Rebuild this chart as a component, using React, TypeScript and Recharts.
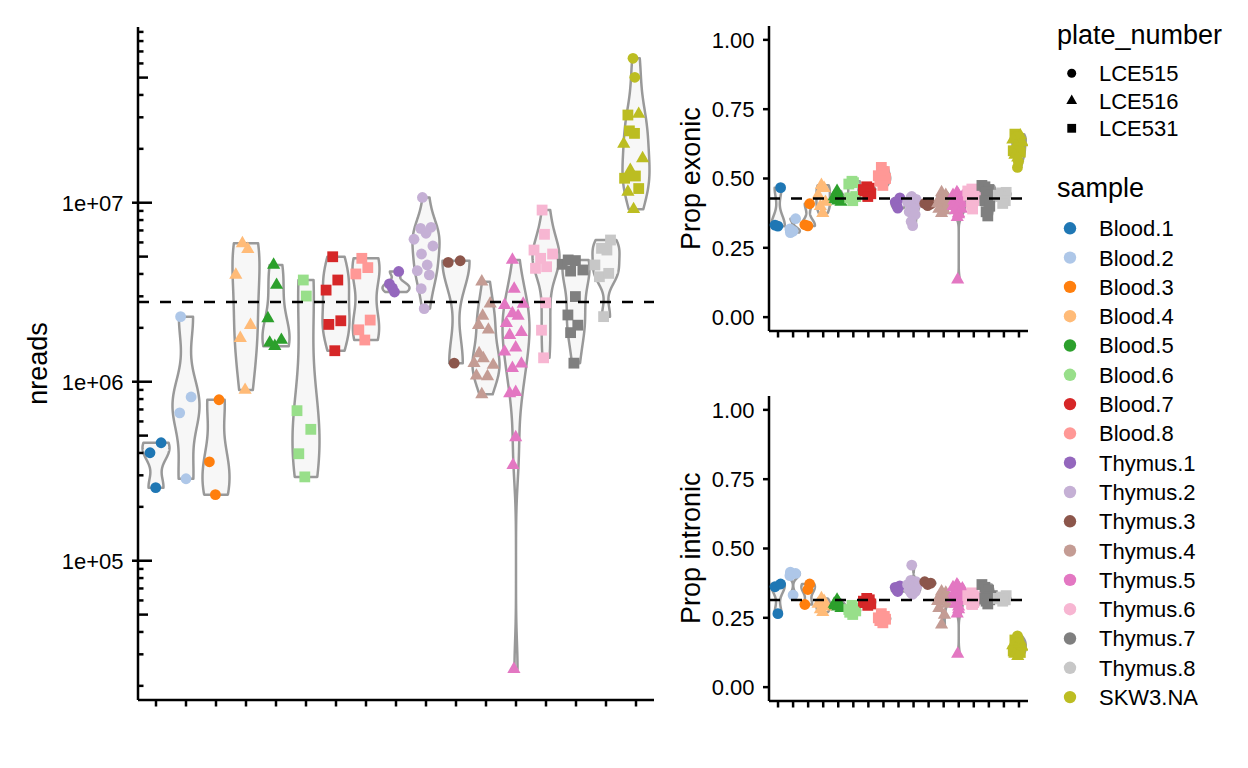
import React from 'react';
import { ScatterChart, Scatter, XAxis, YAxis } from 'recharts';

const FONT = '"Liberation Sans", Arial, Helvetica, sans-serif';

const SAMPLES = ['Blood.1', 'Blood.2', 'Blood.3', 'Blood.4', 'Blood.5', 'Blood.6', 'Blood.7', 'Blood.8',
  'Thymus.1', 'Thymus.2', 'Thymus.3', 'Thymus.4', 'Thymus.5', 'Thymus.6', 'Thymus.7', 'Thymus.8', 'SKW3.NA'];
const COLORS = ['#1f77b4', '#aec7e8', '#ff7f0e', '#ffbb78', '#2ca02c', '#98df8a', '#d62728', '#ff9896',
  '#9467bd', '#c5b0d5', '#8c564b', '#c49c94', '#e377c2', '#f7b6d2', '#7f7f7f', '#c7c7c7', '#bcbd22'];
const PLATES = ['LCE515', 'LCE516', 'LCE531'];
const SAMPLE_PLATE = ['LCE515', 'LCE515', 'LCE515', 'LCE516', 'LCE516', 'LCE531', 'LCE531', 'LCE531',
  'LCE515', 'LCE515', 'LCE515', 'LCE516', 'LCE516', 'LCE531', 'LCE531', 'LCE531', 'mixed'];
const SKW3_PLATES = ['LCE515', 'LCE515', 'LCE531', 'LCE516', 'LCE531', 'LCE531', 'LCE516', 'LCE516',
  'LCE516', 'LCE531', 'LCE531', 'LCE531', 'LCE516', 'LCE516'];

const NREADS: number[][] = [
  [4.01e5, 4.56e5, 2.56e5],
  [2.31e6, 8.22e5, 6.70e5, 2.87e5],
  [7.93e5, 3.57e5, 2.34e5],
  [5.93e6, 5.50e6, 3.95e6, 2.07e6, 1.75e6, 8.99e5],
  [4.49e6, 3.47e6, 2.26e6, 1.65e6, 1.58e6, 1.71e6],
  [3.70e6, 3.01e6, 6.89e5, 5.42e5, 3.96e5, 2.94e5],
  [4.99e6, 3.70e6, 3.25e6, 2.09e6, 2.19e6, 1.49e6],
  [4.89e6, 4.34e6, 4.00e6, 2.21e6, 1.95e6, 1.71e6],
  [4.13e6, 3.52e6, 3.34e6, 3.17e6],
  [1.07e7, 7.19e6, 7.29e6, 6.75e6, 6.25e6, 5.73e6, 5.17e6, 4.49e6, 4.17e6, 3.95e6, 3.31e6, 2.56e6],
  [4.64e6, 4.74e6, 1.27e6],
  [3.62e6, 2.73e6, 2.33e6, 2.07e6, 1.95e6, 1.44e6, 1.35e6, 1.27e6, 1.24e6, 1.08e6, 1.07e6, 8.50e5],
  [4.79e6, 3.30e6, 2.68e6, 2.72e6, 2.41e6, 2.33e6, 2.12e6, 1.82e6, 1.89e6, 1.55e6, 1.47e6, 1.19e6, 1.26e6, 8.61e5, 8.75e5, 4.89e5, 3.42e5, 2.48e4],
  [9.10e6, 6.66e6, 5.44e6, 5.17e6, 4.89e6, 4.30e6, 4.39e6, 2.76e6, 1.94e6, 1.36e6],
  [4.53e6, 4.79e6, 4.75e6, 4.15e6, 4.21e6, 2.99e6, 2.36e6, 2.07e6, 1.88e6, 1.27e6],
  [6.19e6, 5.56e6, 5.44e6, 4.49e6, 3.86e6, 4.03e6, 2.31e6],
  [6.41e7, 5.02e7, 3.09e7, 3.13e7, 2.52e7, 2.44e7, 2.13e7, 1.77e7, 1.52e7, 1.41e7, 1.37e7, 1.20e7, 1.15e7, 9.19e6],
];

const JITTER: number[][] = [
  [-0.2, 0.17, -0.01],
  [-0.18, 0.17, -0.21, 0.0],
  [0.1, -0.22, -0.02],
  [-0.12, 0.06, -0.34, 0.15, -0.19, -0.03],
  [-0.08, 0.02, -0.27, -0.21, -0.04, 0.18],
  [-0.09, 0.01, -0.3, 0.16, -0.24, -0.04],
  [-0.11, 0.06, -0.33, -0.24, 0.16, -0.04],
  [-0.14, 0.06, -0.34, 0.14, -0.24, -0.04],
  [0.09, -0.22, -0.12, -0.05],
  [-0.12, -0.18, 0.17, 0.0, -0.4, 0.23, -0.15, 0.04, -0.29, 0.11, -0.16, -0.06],
  [-0.26, 0.14, -0.06],
  [-0.14, 0.14, -0.11, -0.25, 0.08, -0.23, -0.09, -0.4, 0.24, -0.32, 0.05, -0.14],
  [-0.12, -0.06, -0.38, 0.24, -0.12, 0.07, -0.32, -0.21, 0.18, -0.01, -0.38, -0.12, 0.18, -0.21, -0.01, -0.01, -0.1, -0.07],
  [-0.13, -0.05, -0.4, 0.22, -0.18, -0.35, 0.02, -0.01, -0.15, -0.08],
  [-0.46, -0.26, -0.02, -0.18, 0.23, -0.02, -0.27, 0.06, -0.18, -0.07],
  [0.15, -0.15, 0.03, -0.37, -0.22, 0.09, -0.08],
  [-0.1, -0.04, -0.27, 0.09, -0.22, -0.05, -0.41, 0.22, -0.19, -0.02, -0.38, 0.09, -0.27, -0.08],
];

const PROP_EXONIC: number[][] = [
  [0.332, 0.467, 0.328],
  [0.305, 0.355, 0.318, 0.31],
  [0.409, 0.333, 0.329],
  [0.476, 0.465, 0.44, 0.415, 0.4, 0.375],
  [0.455, 0.44, 0.435, 0.425, 0.42, 0.415],
  [0.49, 0.485, 0.48, 0.435, 0.43, 0.42],
  [0.47, 0.465, 0.46, 0.455, 0.445, 0.435],
  [0.54, 0.525, 0.51, 0.5, 0.49, 0.475],
  [0.43, 0.415, 0.405, 0.393],
  [0.435, 0.43, 0.425, 0.42, 0.415, 0.41, 0.4, 0.39, 0.38, 0.37, 0.345, 0.33],
  [0.41, 0.408, 0.402],
  [0.45, 0.44, 0.435, 0.43, 0.425, 0.42, 0.415, 0.41, 0.4, 0.39, 0.385, 0.375],
  [0.45, 0.445, 0.44, 0.435, 0.43, 0.425, 0.42, 0.415, 0.41, 0.405, 0.4, 0.395, 0.39, 0.385, 0.375, 0.37, 0.36, 0.135],
  [0.462, 0.458, 0.455, 0.45, 0.445, 0.44, 0.43, 0.42, 0.405, 0.39],
  [0.475, 0.47, 0.46, 0.45, 0.44, 0.43, 0.42, 0.4, 0.38, 0.365],
  [0.45, 0.448, 0.445, 0.44, 0.435, 0.42, 0.41],
  [0.54, 0.56, 0.66, 0.655, 0.65, 0.645, 0.64, 0.63, 0.62, 0.61, 0.6, 0.595, 0.585, 0.575],
];

const PROP_INTRONIC: number[][] = [
  [0.362, 0.372, 0.265],
  [0.415, 0.41, 0.402, 0.332],
  [0.372, 0.298, 0.352],
  [0.32, 0.31, 0.3, 0.29, 0.28, 0.27],
  [0.315, 0.305, 0.3, 0.295, 0.29, 0.285],
  [0.295, 0.285, 0.28, 0.275, 0.27, 0.262],
  [0.32, 0.315, 0.31, 0.305, 0.3, 0.295],
  [0.265, 0.255, 0.25, 0.245, 0.24, 0.232],
  [0.365, 0.36, 0.35, 0.345],
  [0.44, 0.385, 0.38, 0.375, 0.37, 0.365, 0.36, 0.355, 0.35, 0.345, 0.34, 0.335],
  [0.38, 0.375, 0.37],
  [0.345, 0.34, 0.335, 0.33, 0.325, 0.32, 0.315, 0.31, 0.3, 0.285, 0.26, 0.225],
  [0.37, 0.365, 0.36, 0.355, 0.35, 0.345, 0.34, 0.335, 0.33, 0.325, 0.32, 0.315, 0.31, 0.3, 0.29, 0.28, 0.265, 0.12],
  [0.34, 0.335, 0.33, 0.325, 0.32, 0.315, 0.31, 0.305, 0.3, 0.298],
  [0.37, 0.36, 0.35, 0.34, 0.33, 0.325, 0.32, 0.315, 0.31, 0.3],
  [0.33, 0.325, 0.322, 0.32, 0.318, 0.315, 0.31],
  [0.185, 0.175, 0.17, 0.165, 0.16, 0.155, 0.15, 0.145, 0.14, 0.135, 0.13, 0.125, 0.12, 0.112],
];

const NREADS_HLINE = 2.79e6;
const EXONIC_HLINE = 0.428;
const INTRONIC_HLINE = 0.314;

const NREADS_DOMAIN = [1.667e4, 9.586e7];
const PROP_DOMAIN = [-0.05, 1.05];
const X_DOMAIN = [0.4, 17.6];
const NREADS_TICKS = [2e4, 3e4, 4e4, 5e4, 6e4, 7e4, 8e4, 9e4, 1e5, 2e5, 3e5, 4e5, 5e5, 6e5, 7e5, 8e5, 9e5,
  1e6, 2e6, 3e6, 4e6, 5e6, 6e6, 7e6, 8e6, 9e6, 1e7, 2e7, 3e7, 4e7, 5e7, 6e7, 7e7, 8e7, 9e7];
const PROP_TICKS = [0, 0.25, 0.5, 0.75, 1];
const CATEGORY_TICKS = SAMPLES.map((_, i) => i + 1);

const plateOf = (i: number, j: number) => (SAMPLE_PLATE[i] === 'mixed' ? SKW3_PLATES[j] : SAMPLE_PLATE[i]);

function pointsFor(values: number[][], i: number) {
  return values[i].map((v, j) => ({ x: i + 1 + (JITTER[i][j] ?? 0), y: v, plate: plateOf(i, j), color: COLORS[i] }));
}

function violinOutline(values: number[], center: number, toT: (v: number) => number, fromT: (t: number) => number, nEval = 120) {
  const t = values.map(toT).sort((a, b) => a - b);
  const n = t.length;
  const mean = t.reduce((s, v) => s + v, 0) / n;
  const sd = Math.sqrt(t.reduce((s, v) => s + (v - mean) ** 2, 0) / (n - 1));
  const q = (p: number) => {
    const h = (n - 1) * p;
    const lo = Math.floor(h);
    const hi = Math.min(lo + 1, n - 1);
    return t[lo] + (h - lo) * (t[hi] - t[lo]);
  };
  let lo = Math.min(sd, (q(0.75) - q(0.25)) / 1.34);
  if (!(lo > 0)) lo = sd > 0 ? sd : Math.abs(t[0]) || 1;
  const bw = 0.9 * lo * Math.pow(n, -0.2);
  const a = t[0];
  const b = t[n - 1];
  const ys: number[] = [];
  const ds: number[] = [];
  for (let k = 0; k < nEval; k++) {
    const y = a + ((b - a) * k) / (nEval - 1);
    let d = 0;
    for (const xi of t) d += Math.exp(-0.5 * ((y - xi) / bw) ** 2);
    ys.push(y);
    ds.push(d);
  }
  const maxD = Math.max(...ds);
  const left = ys.map((y, k) => ({ x: center - (0.45 * ds[k]) / maxD, y: fromT(y) }));
  const right = ys.map((y, k) => ({ x: center + (0.45 * ds[k]) / maxD, y: fromT(y) })).reverse();
  return [...left, ...right];
}

const PointShape = (props: any) => {
  const { cx, cy, payload } = props;
  if (cx == null || cy == null) return <g />;
  const c = payload.color;
  if (payload.plate === 'LCE516') {
    const r = 7.6;
    const hw = r * 0.866;
    return <polygon points={`${cx},${cy - r} ${cx + hw},${cy + r / 2} ${cx - hw},${cy + r / 2}`} fill={c} />;
  }
  if (payload.plate === 'LCE531') {
    return <rect x={cx - 5.4} y={cy - 5.4} width={10.8} height={10.8} fill={c} />;
  }
  return <circle cx={cx} cy={cy} r={5.4} fill={c} />;
};

const NoShape = () => <g />;

const pathLine = (style: any, close: boolean) => (p: any) => {
  const pts: any[] = p.points || [];
  const d = pts.map((q, k) => `${k ? 'L' : 'M'}${q.x},${q.y}`).join('') + (close ? 'Z' : '');
  return <path d={d} {...style} />;
};

const VIOLIN_LINE = pathLine({ stroke: '#999999', strokeWidth: 2.5, fill: '#f7f7f7', strokeLinejoin: 'round' }, true);
const DASH_LINE = pathLine({ stroke: '#000', strokeWidth: 2.6, strokeDasharray: '11 11', fill: 'none' }, false);

const LogTick = (props: any) => {
  const { x, y, payload } = props;
  const v = payload.value as number;
  const e = Math.floor(Math.log10(v) + 1e-9);
  const m = Math.round(v / Math.pow(10, e));
  const major = m === 1;
  const len = major ? 14 : m === 5 ? 10 : 5.5;
  return (
    <g>
      {major && <line x1={x - 6} x2={x} y1={y} y2={y} stroke="#000" strokeWidth={2.5} />}
      <line x1={x} x2={x + len} y1={y} y2={y} stroke="#000" strokeWidth={2.5} />
      {major && (
        <text x={x - 14.5} y={y} dy="0.36em" textAnchor="end" fontSize={22} fontFamily={FONT} fill="#000">
          {`1e+${String(e).padStart(2, '0')}`}
        </text>
      )}
    </g>
  );
};

const PropTick = (props: any) => {
  const { x, y, payload } = props;
  const v = payload.value as number;
  return (
    <g>
      <line x1={x - 6} x2={x} y1={y} y2={y} stroke="#000" strokeWidth={2.5} />
      <text x={x - 14.5} y={y} dy="0.36em" textAnchor="end" fontSize={22} fontFamily={FONT} fill="#000">
        {v.toFixed(2)}
      </text>
    </g>
  );
};

const XTick = (props: any) => {
  const { x, y } = props;
  return <line x1={x} x2={x} y1={y} y2={y + 6.5} stroke="#000" strokeWidth={2.5} />;
};

const AXIS_LINE = { stroke: '#000', strokeWidth: 2.5 };

function Panel(props: {
  width: number; height: number; margin: any; values: number[][]; log: boolean; hline: number; xHeight: number;
}) {
  const { width, height, margin, values, log, hline, xHeight } = props;
  const toT = log ? (v: number) => Math.log10(v) : (v: number) => v;
  const fromT = log ? (t: number) => Math.pow(10, t) : (t: number) => t;
  const violins = SAMPLES.map((_, i) => violinOutline(values[i], i + 1, toT, fromT));
  const hlineData = [{ x: X_DOMAIN[0], y: hline }, { x: X_DOMAIN[1], y: hline }];
  return (
    <ScatterChart width={width} height={height} margin={margin}>
      <XAxis
        type="number"
        dataKey="x"
        domain={X_DOMAIN}
        allowDataOverflow
        ticks={CATEGORY_TICKS}
        interval={0}
        tickSize={0}
        tickMargin={0}
        height={xHeight}
        axisLine={AXIS_LINE}
        tickLine={false}
        tick={XTick}
      />
      {log ? (
        <YAxis
          type="number"
          dataKey="y"
          scale="log"
          domain={NREADS_DOMAIN}
          allowDataOverflow
          ticks={NREADS_TICKS}
          interval={0}
          width={100}
          tickSize={0}
          tickMargin={0}
          axisLine={AXIS_LINE}
          tickLine={false}
          tick={LogTick}
        />
      ) : (
        <YAxis
          type="number"
          dataKey="y"
          domain={PROP_DOMAIN}
          allowDataOverflow
          ticks={PROP_TICKS}
          interval={0}
          width={100}
          tickSize={0}
          tickMargin={0}
          axisLine={AXIS_LINE}
          tickLine={false}
          tick={PropTick}
        />
      )}
      {violins.map((pts, i) => (
        <Scatter
          key={`v${i}`}
          data={pts}
          line={VIOLIN_LINE}
          lineType="joint"
          shape={NoShape}
          isAnimationActive={false}
        />
      ))}
      {SAMPLES.map((s, i) => (
        <Scatter key={`p${i}`} name={s} data={pointsFor(values, i)} fill={COLORS[i]} shape={PointShape} isAnimationActive={false} />
      ))}
      <Scatter data={hlineData} line={DASH_LINE} lineType="joint" shape={NoShape} isAnimationActive={false} />
    </ScatterChart>
  );
}

const LegendMarker = ({ plate, x, y }: { plate: string; x: number; y: number }) => {
  if (plate === 'LCE516') {
    const r = 6.2;
    const hw = r * 0.866;
    return <polygon points={`${x},${y - r} ${x + hw},${y + r / 2} ${x - hw},${y + r / 2}`} fill="#000" />;
  }
  if (plate === 'LCE531') {
    const s = 8.8;
    return <rect x={x - s / 2} y={y - s / 2} width={s} height={s} fill="#000" />;
  }
  return <circle cx={x} cy={y} r={4.5} fill="#000" />;
};

export default function App() {
  const sampleStep = 29.3;
  return (
    <div style={{ position: 'absolute', left: 0, top: 0, width: 1248, height: 768, background: '#fff', fontFamily: FONT }}>
      <div style={{ position: 'absolute', left: 0, top: 0 }}>
        <Panel width={660} height={768} margin={{ top: 27, right: 6, bottom: 38, left: 38 }} values={NREADS} log hline={NREADS_HLINE} xHeight={30} />
      </div>
      <div style={{ position: 'absolute', left: 660, top: 0 }}>
        <Panel width={380} height={362} margin={{ top: 26, right: 12, bottom: 11, left: 9 }} values={PROP_EXONIC} log={false} hline={EXONIC_HLINE} xHeight={20} />
      </div>
      <div style={{ position: 'absolute', left: 660, top: 370 }}>
        <Panel width={380} height={362} margin={{ top: 26, right: 12, bottom: 11, left: 9 }} values={PROP_INTRONIC} log={false} hline={INTRONIC_HLINE} xHeight={20} />
      </div>
      <svg width={1248} height={768} style={{ position: 'absolute', left: 0, top: 0, pointerEvents: 'none' }}>
        <g fontFamily={FONT} fill="#000">
          <text transform="translate(47,363.5) rotate(-90)" textAnchor="middle" fontSize={27}>nreads</text>
          <text transform="translate(700,178.6) rotate(-90)" textAnchor="middle" fontSize={27}>Prop exonic</text>
          <text transform="translate(700,548.3) rotate(-90)" textAnchor="middle" fontSize={27}>Prop intronic</text>
          <text x={1057} y={43.5} fontSize={27}>plate_number</text>
          {PLATES.map((p, k) => (
            <g key={p}>
              <LegendMarker plate={p} x={1071.7} y={73.3 + k * 27.5} />
              <text x={1099} y={73.3 + k * 27.5} dy="0.36em" fontSize={22}>{p}</text>
            </g>
          ))}
          <text x={1057} y={196.5} fontSize={27}>sample</text>
          {SAMPLES.map((s, i) => (
            <g key={s}>
              <circle cx={1070} cy={228.3 + i * sampleStep} r={6.2} fill={COLORS[i]} />
              <text x={1099} y={228.3 + i * sampleStep} dy="0.36em" fontSize={22}>{s}</text>
            </g>
          ))}
        </g>
      </svg>
    </div>
  );
}
